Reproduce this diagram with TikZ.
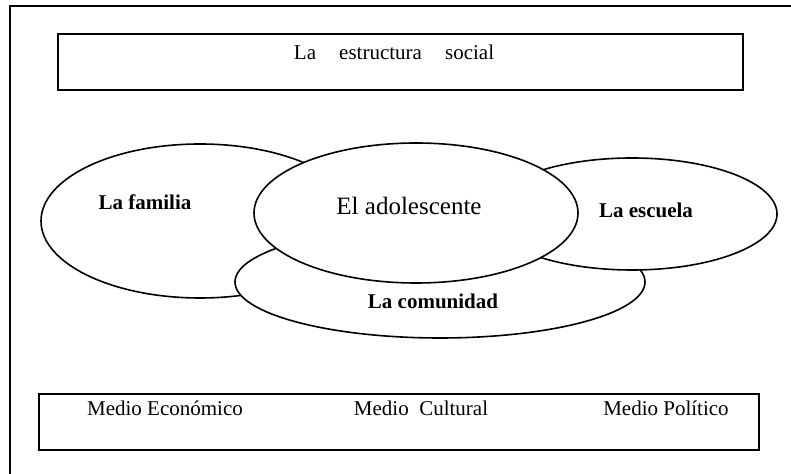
\documentclass[tikz,border=0pt]{standalone}
\usepackage{fontspec}
\setmainfont{Liberation Serif}

\begin{document}
\begin{tikzpicture}[x=0.5pt,y=-0.5pt,line width=0.8pt,
  blob/.style={draw,fill=white},
  txt/.style={anchor=base,inner sep=0pt,font=\fontsize{10.5}{12}\selectfont},
  boldtxt/.style={txt,font=\fontsize{10.5}{12}\selectfont\bfseries}]
\useasboundingbox (0,0) rectangle (791,474);
\clip (0,0) rectangle (791,474);
% outer frame
\draw (10,6) rectangle (800,480);
% top box
\draw (58,34) rectangle (743,90);
\node[txt] (estructura) at (394,60) {La\hspace{1.1em}estructura\hspace{1.1em}social};
% the four spheres
\draw[blob] (200,221) ellipse [x radius=159, y radius=77];
\draw[blob] (440,282) ellipse [x radius=205, y radius=56];
\draw[blob] (632,214) ellipse [x radius=145, y radius=56];
\draw[blob] (416,213) ellipse [x radius=162, y radius=70];
\node[boldtxt] (familia) at (145,210) {La familia};
\node[txt,font=\fontsize{12.5}{14}\selectfont] (adolescente) at (409,215) {El adolescente};
\node[boldtxt] (escuela) at (646,218) {La escuela};
\node[boldtxt] (comunidad) at (433,309) {La comunidad};
% bottom box
\draw (39,394) rectangle (759,450);
\node[txt] (economico) at (165,416) {Medio Económico};
\node[txt] (cultural) at (421,416) {Medio\hspace{0.5em}Cultural};
\node[txt] (politico) at (666,416) {Medio Político};
\end{tikzpicture}
\end{document}
